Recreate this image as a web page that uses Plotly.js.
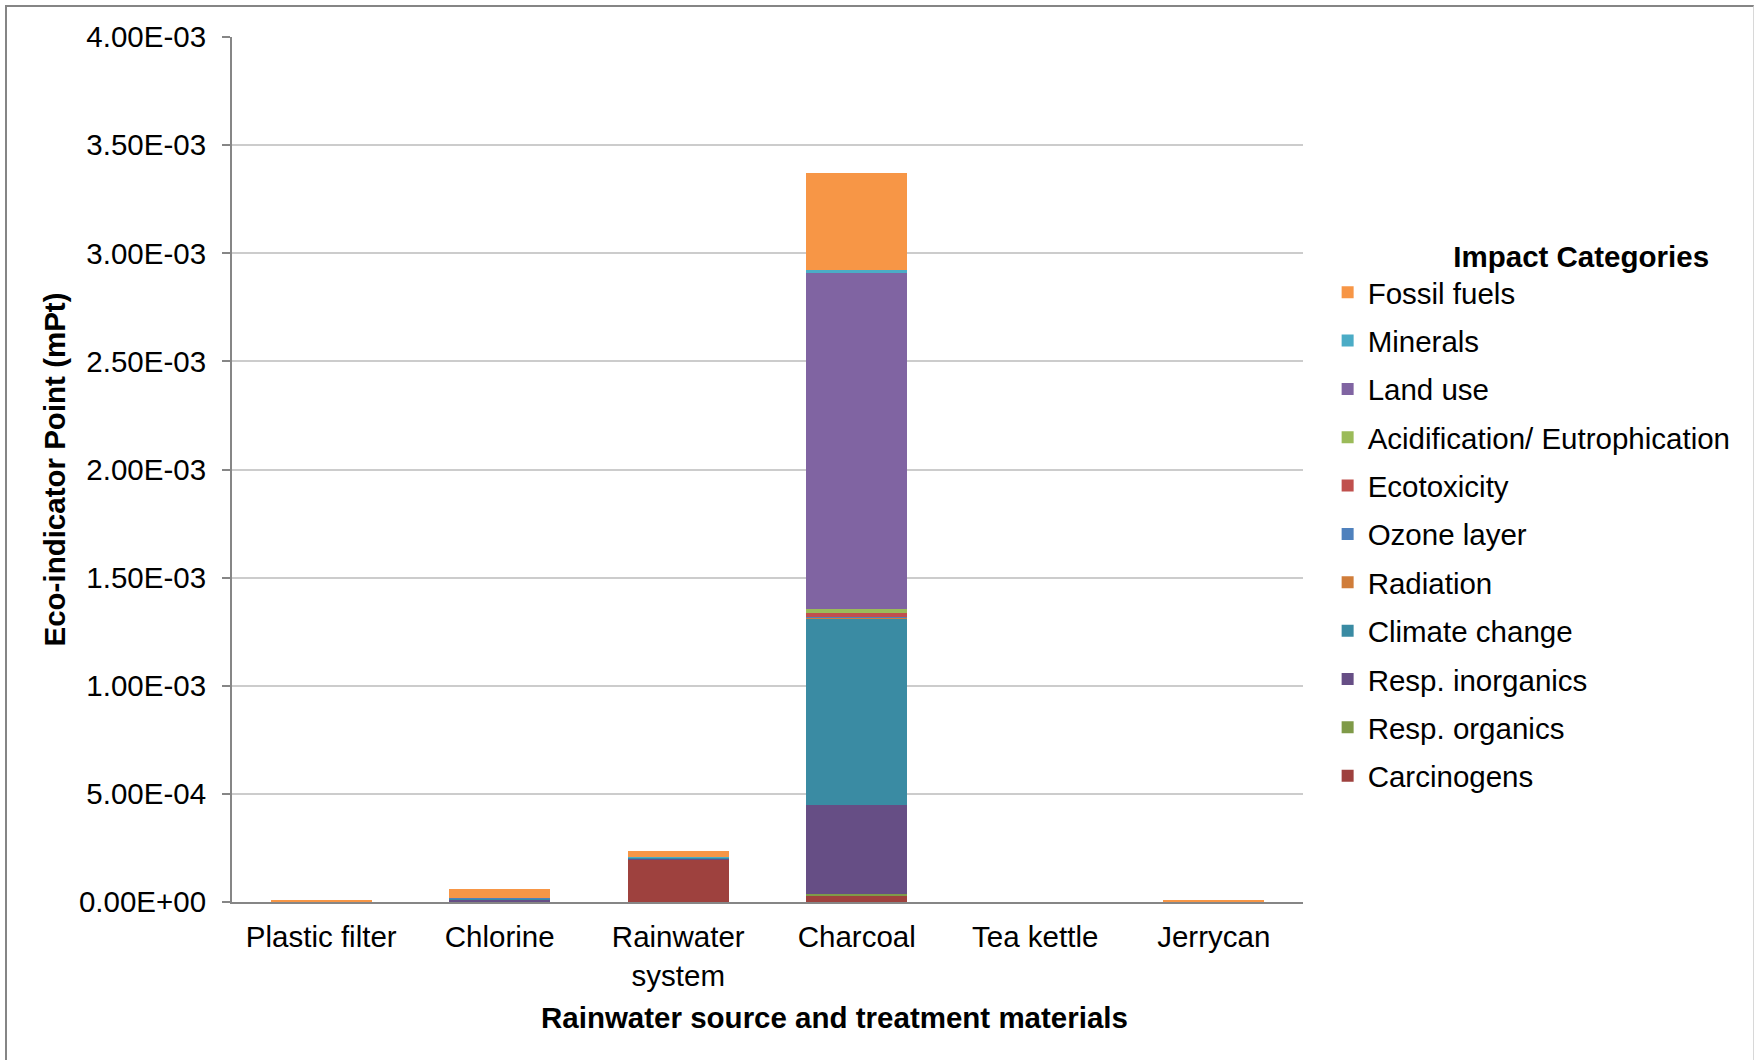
<!DOCTYPE html>
<html>
<head>
<meta charset="utf-8">
<script src="https://cdn.plot.ly/plotly-3.0.1.min.js"></script>
<style>
  html, body { margin: 0; padding: 0; background: #ffffff; }
  #wrap { position: relative; width: 1754px; height: 1060px; }
  #chart { position: absolute; left: 0; top: 0; width: 1754px; height: 1060px; }
  #frame { position: absolute; left: 5px; top: 5px; width: 1749px; height: 1070px;
           border-top: 2px solid #858585; border-left: 2px solid #858585; border-right: 1px solid #d8d8d8;
           pointer-events: none; box-sizing: border-box; }
</style>
</head>
<body>
<div id="wrap">
  <div id="chart"></div>
  <div id="frame"></div>
</div>
<script>
// Categories (x axis)
const categories = ["Plastic filter", "Chlorine", "Rainwater<br>system", "Charcoal", "Tea kettle", "Jerrycan"];

// Impact category series (Eco-indicator points, mPt), stacked bottom -> top
const carcinogens     = [0,      2e-6,   1.96e-4, 3.1e-5,  0,    0];
const respOrganics    = [0,      0,      0,       7e-6,    0,    0];
const respInorganics  = [0,      1.0e-5, 5e-6,    4.12e-4, 0,    0];
const climateChange   = [1e-6,   6e-6,   5e-6,    8.63e-4, 0,    1e-6];
const radiation       = [0,      0,      0,       2e-6,    0,    0];
const ozoneLayer      = [0,      2e-6,   1e-6,    2e-6,    0,    0];
const ecotoxicity     = [0,      0,      0,       2.0e-5,  0,    0];
const acidification   = [0,      0,      0,       1.9e-5,  0,    0];
const landUse         = [0,      0,      0,       1.551e-3,0,    0];
const minerals        = [0,      0,      3e-6,    1.6e-5,  0,    0];
const fossilFuels     = [9e-6,   4.2e-5, 2.6e-5,  4.50e-4, 0,    4e-6];

// Y axis ticks
const yTickVals = [0, 5e-4, 1e-3, 1.5e-3, 2e-3, 2.5e-3, 3e-3, 3.5e-3, 4e-3];
const yTickText = ["0.00E+00", "5.00E-04", "1.00E-03", "1.50E-03", "2.00E-03", "2.50E-03", "3.00E-03", "3.50E-03", "4.00E-03"];

const seriesNames = ["Carcinogens", "Resp. organics", "Resp. inorganics", "Climate change", "Radiation",
  "Ozone layer", "Ecotoxicity", "Acidification/ Eutrophication", "Land use", "Minerals", "Fossil fuels"];
const seriesValues = [carcinogens, respOrganics, respInorganics, climateChange, radiation,
  ozoneLayer, ecotoxicity, acidification, landUse, minerals, fossilFuels];
const seriesColors = ["#9E413E", "#7F9A48", "#664E85", "#3A8BA3", "#D07D3A",
  "#4F81BD", "#C0504D", "#9BBB59", "#8064A2", "#4BACC6", "#F79646"];

const FONT = "Liberation Sans, Arial, sans-serif";
const FS = 29.5;

const traces = seriesNames.map((name, i) => ({
  type: "bar",
  name: name,
  x: categories,
  y: seriesValues[i],
  legendgroup: "g" + i,
  legendrank: 1000 - i,
  marker: { color: seriesColors[i], line: { width: 0 } },
  hovertemplate: "%{x}<br>" + name + ": %{y:.2e}<extra></extra>"
}));

const layout = {
  width: 1754,
  height: 1060,
  paper_bgcolor: "#ffffff",
  plot_bgcolor: "#ffffff",
  barmode: "stack",
  bargap: 0.436,
  margin: { l: 232, r: 451, t: 37, b: 158 },
  font: { family: FONT, size: FS, color: "#000000" },
  showlegend: true,
  legend: {
    title: { text: "<b>Impact Categories</b>&nbsp;&nbsp;&nbsp;", side: "top right", font: { family: FONT, size: FS, color: "#000000" } },
    traceorder: "grouped",
    tracegroupgap: 7,
    x: 1.023,
    xanchor: "left",
    y: 0.779,
    yanchor: "top",
    font: { family: FONT, size: FS, color: "#000000" },
    bgcolor: "rgba(0,0,0,0)",
    itemwidth: 30
  },
  xaxis: {
    type: "category",
    showline: true,
    linecolor: "#868686",
    linewidth: 2,
    ticks: "",
    showgrid: false,
    tickfont: { family: FONT, size: FS, color: "#000000" },
    ticklabelstandoff: 8
  },
  yaxis: {
    range: [0, 4e-3],
    tickmode: "array",
    tickvals: yTickVals,
    ticktext: yTickText,
    showline: true,
    linecolor: "#868686",
    linewidth: 2,
    ticks: "outside",
    ticklen: 8,
    tickwidth: 2,
    tickcolor: "#868686",
    showgrid: true,
    gridcolor: "#cccccc",
    gridwidth: 2,
    zeroline: false,
    tickfont: { family: FONT, size: FS, color: "#000000" },
    ticklabelstandoff: 10,
    title: { text: "<b>Eco-indicator Point (mPt)</b>", font: { family: FONT, size: FS, color: "#000000" }, standoff: 5 }
  },
  annotations: [{
    text: "<b>Rainwater source and treatment materials</b>",
    xref: "paper", yref: "paper",
    x: 0.563, y: -0.134,
    xanchor: "center", yanchor: "middle",
    showarrow: false,
    font: { family: FONT, size: FS, color: "#000000" }
  }]
};

Plotly.newPlot("chart", traces, layout, { displayModeBar: false });
</script>
</body>
</html>
